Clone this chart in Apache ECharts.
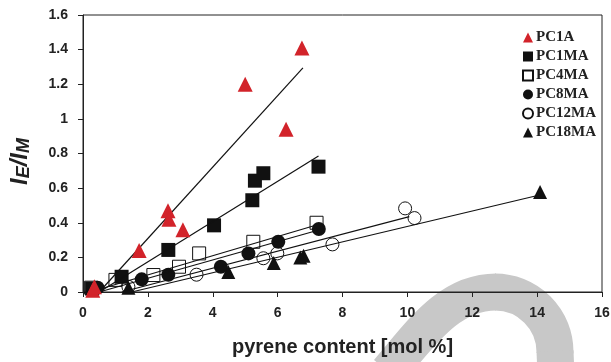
<!DOCTYPE html>
<html>
<head>
<meta charset="utf-8">
<script src="https://cdn.jsdelivr.net/npm/echarts@6/dist/echarts.min.js"></script>
<style>
  html, body { margin: 0; padding: 0; background: #fff; }
  #chart { width: 611px; height: 362px; }
</style>
</head>
<body>
<div id="chart"></div>
<script>
// measured points [pyrene mol %, IE/IM]
var pc1a = [[0.3, 0.01], [0.35, 0.03], [1.73, 0.24], [2.62, 0.47], [2.65, 0.42], [3.08, 0.36], [5.0, 1.2], [6.26, 0.94], [6.75, 1.41]];
var pc1ma = [[0.28, 0.02], [1.19, 0.088], [2.63, 0.243], [4.04, 0.385], [5.22, 0.53], [5.3, 0.643], [5.56, 0.686], [7.26, 0.724]];
var pc4ma = [[0.25, 0.025], [1.0, 0.07], [2.17, 0.098], [2.96, 0.146], [3.58, 0.223], [5.25, 0.29], [7.2, 0.4]];
var pc8ma = [[0.45, 0.025], [1.81, 0.073], [2.63, 0.1], [4.25, 0.146], [5.1, 0.223], [6.02, 0.29], [7.27, 0.364]];
var pc12ma = [[1.4, 0.03], [3.5, 0.1], [5.56, 0.195], [5.99, 0.223], [7.69, 0.275], [9.93, 0.483], [10.22, 0.427]];
var pc18ma = [[1.4, 0.025], [4.48, 0.115], [5.88, 0.168], [6.7, 0.2], [6.8, 0.21], [14.09, 0.578]];

// fit line end points
var fitPc1a = [[0.5, 0], [6.78, 1.295]];
var fitPc1ma = [[0.5, 0], [7.26, 0.786]];
var fitPc4ma = [[0.4, 0.01], [7.2, 0.387]];
var fitPc8ma = [[0.5, 0], [7.27, 0.358]];
var fitPc12ma = [[1.2, 0], [10.06, 0.435]];
var fitPc18ma = [[1.5, 0], [13.98, 0.556]];

var legendNames = ['PC1A', 'PC1MA', 'PC4MA', 'PC8MA', 'PC12MA', 'PC18MA'];

var myChart = echarts.init(document.getElementById('chart'));

function fitLine(name, data) {
    return {
        name: name,
        type: 'line',
        data: data,
        symbol: 'none',
        silent: true,
        z: 3,
        lineStyle: { color: '#111', width: 1.2 }
    };
}

function dots(name, data, symbol, size, color, hollow) {
    return {
        name: name,
        type: 'scatter',
        data: data,
        symbol: symbol,
        symbolSize: size,
        z: 2,
        itemStyle: hollow ? {
            color: 'rgba(255,255,255,0)',
            borderColor: '#111',
            borderWidth: 1,
            opacity: 1
        } : { color: color, opacity: 1 }
    };
}

// grey watermark stroke behind the plot
var markStyle = { fill: 'none', stroke: '#c8c8c8', lineWidth: 37 };

var option = {
    animation: false,
    graphic: [{
        type: 'bezierCurve',
        z: -100,
        silent: true,
        shape: { x1: 388, y1: 372, cpx1: 420, cpy1: 335, cpx2: 448, cpy2: 292, x2: 496, y2: 292 },
        style: markStyle
    }, {
        type: 'arc',
        z: -100,
        silent: true,
        shape: { cx: 495, cy: 352, r: 60, startAngle: -Math.PI / 2, endAngle: 0.02, clockwise: true },
        style: markStyle
    }, {
        type: 'line',
        z: -100,
        silent: true,
        shape: { x1: 555, y1: 351, x2: 556, y2: 375 },
        style: markStyle
    }],
    grid: {
        left: 83,
        right: 9,
        top: 15,
        bottom: 70,
        outerBoundsMode: 'none',
        containLabel: false,
        show: true,
        borderColor: '#222',
        borderWidth: 1
    },
    legend: {
        data: legendNames,
        orient: 'vertical',
        left: 517,
        top: 25,
        itemWidth: 10,
        itemHeight: 10,
        itemGap: 4,
        selectedMode: false,
        textStyle: {
            fontFamily: 'Liberation Serif',
            fontWeight: 'bold',
            fontSize: 15,
            color: '#222',
            padding: [0, 0, 0, -2]
        }
    },
    xAxis: {
        type: 'value',
        min: 0,
        max: 16,
        interval: 2,
        name: 'pyrene content [mol %]',
        nameLocation: 'middle',
        nameGap: 45,
        nameTextStyle: {
            fontFamily: 'Liberation Sans',
            fontWeight: 'bold',
            fontSize: 20,
            color: '#222'
        },
        axisLine: { lineStyle: { color: '#222', width: 1 } },
        axisTick: { length: 5, lineStyle: { color: '#222' } },
        axisLabel: {
            margin: 14,
            fontFamily: 'Liberation Sans',
            fontWeight: 'bold',
            fontSize: 14,
            color: '#222'
        },
        splitLine: { show: false }
    },
    yAxis: {
        type: 'value',
        min: 0,
        max: 1.6,
        interval: 0.2,
        name: '{i|I}{s|E}{i|/I}{s|M}',
        nameLocation: 'middle',
        nameRotate: 90,
        nameGap: 50,
        nameTextStyle: {
            padding: [0, 16, 0, 0],
            rich: {
                i: {
                    fontFamily: 'Liberation Sans',
                    fontWeight: 'bold',
                    fontStyle: 'italic',
                    fontSize: 24,
                    color: '#222',
                    lineHeight: 26
                },
                s: {
                    fontFamily: 'Liberation Sans',
                    fontWeight: 'bold',
                    fontStyle: 'italic',
                    fontSize: 18,
                    color: '#222',
                    lineHeight: 26,
                    verticalAlign: 'bottom',
                    padding: [10, 0, 0, 0]
                }
            }
        },
        axisLine: { show: true, lineStyle: { color: '#222', width: 1 } },
        axisTick: { show: true, length: 5, lineStyle: { color: '#222' } },
        axisLabel: {
            margin: 15,
            fontFamily: 'Liberation Sans',
            fontWeight: 'bold',
            fontSize: 14,
            color: '#222'
        },
        splitLine: { show: false }
    },
    series: [
        fitLine('fit PC1A', fitPc1a),
        fitLine('fit PC1MA', fitPc1ma),
        fitLine('fit PC4MA', fitPc4ma),
        fitLine('fit PC8MA', fitPc8ma),
        fitLine('fit PC12MA', fitPc12ma),
        fitLine('fit PC18MA', fitPc18ma),
        dots('PC12MA', pc12ma, 'circle', 13, '#111', true),
        dots('PC18MA', pc18ma, 'triangle', 14, '#111', false),
        dots('PC8MA', pc8ma, 'circle', 14, '#111', false),
        dots('PC4MA', pc4ma, 'rect', 13, '#111', true),
        dots('PC1MA', pc1ma, 'rect', 14, '#111', false),
        Object.assign(dots('PC1A', pc1a, 'triangle', 15, '#d2232a', false), { z: 4 })
    ]
};

myChart.setOption(option);
window.addEventListener('resize', function () {
    myChart.resize();
});
</script>
</body>
</html>
